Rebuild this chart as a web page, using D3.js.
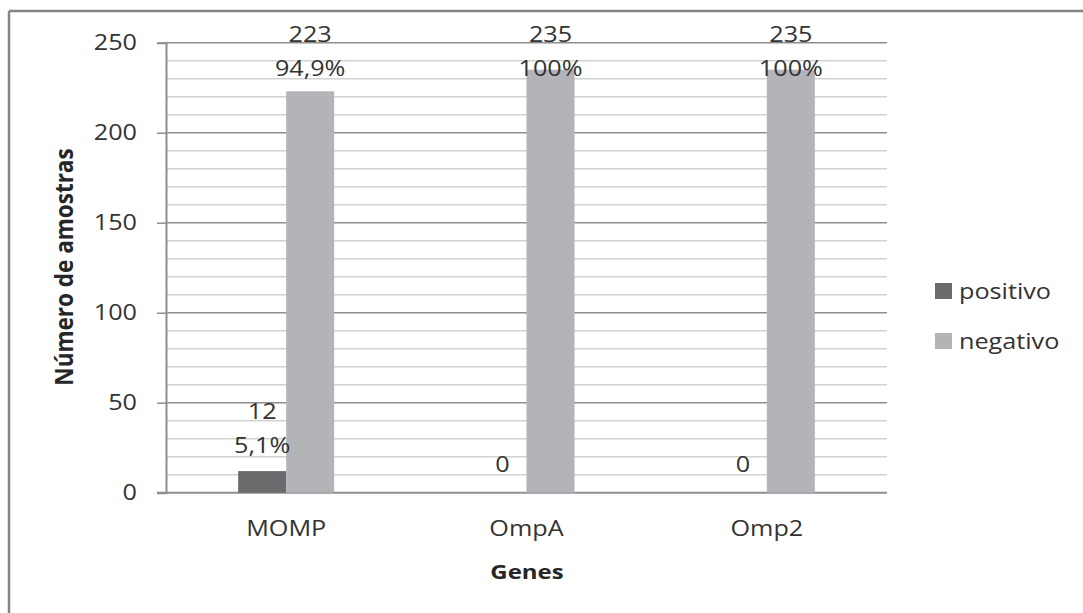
<!DOCTYPE html>
<html><head><meta charset="utf-8">
<script src="https://cdn.jsdelivr.net/npm/d3@7"></script>
<style>body{margin:0;background:#fff;} svg{display:block;}</style>
</head><body>
<svg id="c" width="1083" height="613"></svg>
<script>
const categories = ["MOMP", "OmpA", "Omp2"];
const seriesNames = ["positivo", "negativo"];
const positivo = [12, 0, 0];
const negativo = [223, 235, 235];
const positivoPct = ["5,1%", "", ""];
const negativoPct = ["94,9%", "100%", "100%"];
const yTicks = [0, 50, 100, 150, 200, 250];
const minorTicks = d3.range(0, 251, 10);
const colors = ["#6b6b6d", "#b3b4b8"];

(function () {
const svg = d3.select("#c");
const FONT = "'Open Sans', sans-serif";
const SX = 1.2;
const txtCol = "#333333";

// outer frame (top + left visible)
svg.append("line").attr("x1", 9).attr("x2", 1083).attr("y1", 11).attr("y2", 11).attr("stroke", "#858585").attr("stroke-width", 2.5);
svg.append("line").attr("x1", 9).attr("x2", 9).attr("y1", 11).attr("y2", 613).attr("stroke", "#858585").attr("stroke-width", 2.5);

const pLeft = 166, pRight = 887, pTop = 42.7, pBottom = 492.7;
const x = d3.scaleBand().domain(categories).range([pLeft, pRight]).paddingInner(0).paddingOuter(0);
const y = d3.scaleLinear().domain([0, 250]).range([pBottom, pTop]);

function stext(g, xx, yy, s, opts = {}) {
  return g.append("text")
    .attr("transform", `translate(${xx},${yy}) scale(${opts.sx || SX},1)`)
    .attr("font-family", FONT).attr("font-size", opts.size || 21)
    .attr("fill", opts.fill || txtCol)
    .attr("text-anchor", opts.anchor || "middle")
    .attr("font-weight", opts.weight || "normal")
    .text(s);
}

// minor gridlines
svg.append("g").selectAll("line").data(minorTicks.filter(d => d % 50 !== 0)).join("line")
  .attr("x1", pLeft).attr("x2", pRight).attr("y1", d => y(d)).attr("y2", d => y(d))
  .attr("stroke", "#d2d2d2").attr("stroke-width", 1.5);
// major gridlines
svg.append("g").selectAll("line").data(yTicks.filter(d => d > 0)).join("line")
  .attr("x1", pLeft).attr("x2", pRight).attr("y1", d => y(d)).attr("y2", d => y(d))
  .attr("stroke", "#8e8e8e").attr("stroke-width", 1.5);

// y axis
const yAxis = d3.axisLeft(y).tickValues(yTicks).tickSize(9).tickFormat("");
const ga = svg.append("g").attr("transform", `translate(${pLeft},0)`).call(yAxis);
ga.select(".domain").attr("stroke", "#8e8e8e").attr("stroke-width", 2);
ga.selectAll(".tick line").attr("stroke", "#8e8e8e").attr("stroke-width", 1.5);
const gl = svg.append("g");
yTicks.forEach(t => stext(gl, 137, y(t) + 7.5, String(t), {anchor: "end"}));

// x axis baseline
svg.append("line").attr("x1", pLeft - 9).attr("x2", pRight).attr("y1", y(0)).attr("y2", y(0))
  .attr("stroke", "#8e8e8e").attr("stroke-width", 2);

// bars
const data = categories.map((c, i) => [
  {cat: c, s: "positivo", v: positivo[i], pct: positivoPct[i]},
  {cat: c, s: "negativo", v: negativo[i], pct: negativoPct[i]}
]).flat();
const bw = 48;
const bx = d => x(d.cat) + x.bandwidth() / 2 + (d.s === "positivo" ? -bw : 0);
svg.append("g").selectAll("rect").data(data).join("rect")
  .attr("x", bx).attr("width", bw)
  .attr("y", d => y(d.v)).attr("height", d => y(0) - y(d.v))
  .attr("fill", d => colors[seriesNames.indexOf(d.s)]);

// labels
const lg = svg.append("g");
data.forEach(d => {
  const cx = bx(d) + bw / 2;
  if (d.pct) {
    const b2 = Math.max(y(d.v) - 18, 76);
    stext(lg, cx, b2, d.pct);
    stext(lg, cx, b2 - 34, String(d.v));
  } else {
    stext(lg, cx, y(d.v) - 21, String(d.v));
  }
});

// category labels
categories.forEach(c => stext(svg, x(c) + x.bandwidth() / 2, 536, c, {size: 21}));

// axis titles
stext(svg, 527, 579, "Genes", {size: 20, weight: "bold", fill: "#262626"});
svg.append("text")
  .attr("transform", `translate(73,267) rotate(-90) scale(1,1.1)`)
  .attr("font-family", FONT).attr("font-size", 22.5).attr("font-weight", "bold")
  .attr("fill", "#262626").attr("text-anchor", "middle").text("Número de amostras");

// legend
const leg = svg.append("g");
seriesNames.forEach((s, i) => {
  const yy = 291 + i * 50;
  leg.append("rect").attr("x", 935).attr("y", yy - 8).attr("width", 17).attr("height", 16).attr("fill", colors[i]);
  stext(leg, 959, yy + 7.5, s, {anchor: "start"});
});
})();
</script>
</body></html>
